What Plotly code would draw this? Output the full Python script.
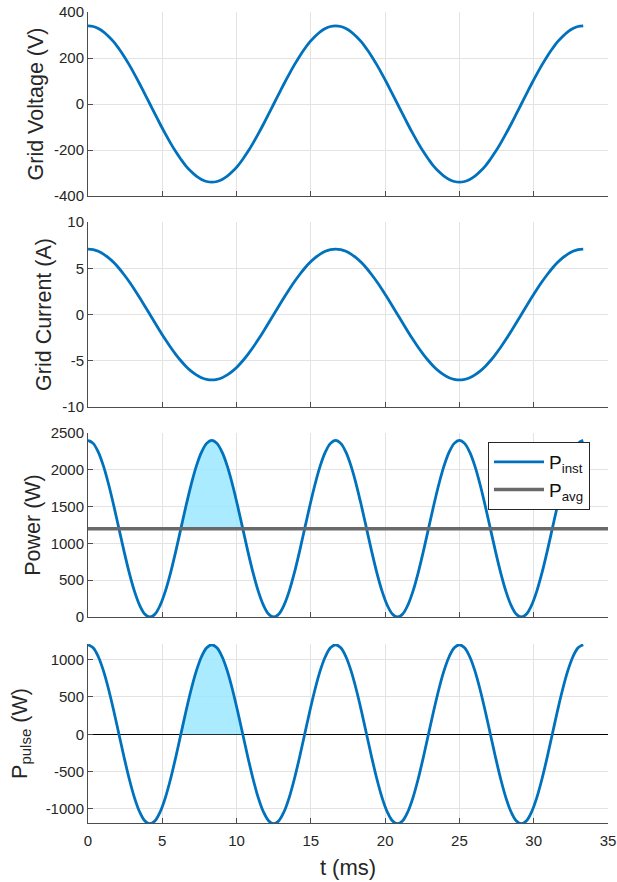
import plotly.graph_objects as go
from plotly.subplots import make_subplots

# ---- data ----
t_ms = [0.000, 0.347, 0.694, 1.042, 1.389, 1.736, 2.083, 2.431, 2.778, 3.125,
        3.472, 3.819, 4.167, 4.514, 4.861, 5.208, 5.556, 5.903, 6.250, 6.597,
        6.944, 7.292, 7.639, 7.986, 8.333, 8.681, 9.028, 9.375, 9.722, 10.069,
        10.417, 10.764, 11.111, 11.458, 11.806, 12.153, 12.500, 12.847, 13.194, 13.542,
        13.889, 14.236, 14.583, 14.931, 15.278, 15.625, 15.972, 16.319, 16.667, 17.014,
        17.361, 17.708, 18.056, 18.403, 18.750, 19.097, 19.444, 19.792, 20.139, 20.486,
        20.833, 21.181, 21.528, 21.875, 22.222, 22.569, 22.917, 23.264, 23.611, 23.958,
        24.306, 24.653, 25.000, 25.347, 25.694, 26.042, 26.389, 26.736, 27.083, 27.431,
        27.778, 28.125, 28.472, 28.819, 29.167, 29.514, 29.861, 30.208, 30.556, 30.903,
        31.250, 31.597, 31.944, 32.292, 32.639, 32.986, 33.333]

grid_voltage = [340, 337, 328, 314, 294, 270, 240, 207, 170, 130, 88, 44, 0,
                -44, -88, -130, -170, -207, -240, -270, -294, -314, -328, -337, -340,
                -337, -328, -314, -294, -270, -240, -207, -170, -130, -88, -44, 0,
                44, 88, 130, 170, 207, 240, 270, 294, 314, 328, 337, 340,
                337, 328, 314, 294, 270, 240, 207, 170, 130, 88, 44, 0,
                -44, -88, -130, -170, -207, -240, -270, -294, -314, -328, -337, -340,
                -337, -328, -314, -294, -270, -240, -207, -170, -130, -88, -44, 0,
                44, 88, 130, 170, 207, 240, 270, 294, 314, 328, 337, 340]

grid_current = [7.07, 7.01, 6.83, 6.53, 6.12, 5.61, 5.00, 4.30, 3.54, 2.71, 1.83, 0.92, 0,
                -0.92, -1.83, -2.71, -3.54, -4.30, -5.00, -5.61, -6.12, -6.53, -6.83, -7.01, -7.07,
                -7.01, -6.83, -6.53, -6.12, -5.61, -5.00, -4.30, -3.54, -2.71, -1.83, -0.92, 0,
                0.92, 1.83, 2.71, 3.54, 4.30, 5.00, 5.61, 6.12, 6.53, 6.83, 7.01, 7.07,
                7.01, 6.83, 6.53, 6.12, 5.61, 5.00, 4.30, 3.54, 2.71, 1.83, 0.92, 0,
                -0.92, -1.83, -2.71, -3.54, -4.30, -5.00, -5.61, -6.12, -6.53, -6.83, -7.01, -7.07,
                -7.01, -6.83, -6.53, -6.12, -5.61, -5.00, -4.30, -3.54, -2.71, -1.83, -0.92, 0,
                0.92, 1.83, 2.71, 3.54, 4.30, 5.00, 5.61, 6.12, 6.53, 6.83, 7.01, 7.07]

p_inst = [2400, 2359, 2239, 2049, 1800, 1511, 1200, 889, 600, 351, 161, 41, 0,
          41, 161, 351, 600, 889, 1200, 1511, 1800, 2049, 2239, 2359, 2400,
          2359, 2239, 2049, 1800, 1511, 1200, 889, 600, 351, 161, 41, 0,
          41, 161, 351, 600, 889, 1200, 1511, 1800, 2049, 2239, 2359, 2400,
          2359, 2239, 2049, 1800, 1511, 1200, 889, 600, 351, 161, 41, 0,
          41, 161, 351, 600, 889, 1200, 1511, 1800, 2049, 2239, 2359, 2400,
          2359, 2239, 2049, 1800, 1511, 1200, 889, 600, 351, 161, 41, 0,
          41, 161, 351, 600, 889, 1200, 1511, 1800, 2049, 2239, 2359, 2400]

p_pulse = [1200, 1159, 1039, 849, 600, 311, 0, -311, -600, -849, -1039, -1159, -1200,
           -1159, -1039, -849, -600, -311, 0, 311, 600, 849, 1039, 1159, 1200,
           1159, 1039, 849, 600, 311, 0, -311, -600, -849, -1039, -1159, -1200,
           -1159, -1039, -849, -600, -311, 0, 311, 600, 849, 1039, 1159, 1200,
           1159, 1039, 849, 600, 311, 0, -311, -600, -849, -1039, -1159, -1200,
           -1159, -1039, -849, -600, -311, 0, 311, 600, 849, 1039, 1159, 1200,
           1159, 1039, 849, 600, 311, 0, -311, -600, -849, -1039, -1159, -1200,
           -1159, -1039, -849, -600, -311, 0, 311, 600, 849, 1039, 1159, 1200]

t_avg = [0, 35]
p_avg = [1200, 1200]

shade_start, shade_end = 18, 30   # indices of the shaded hump (6.25 .. 10.42 ms)

x_ticks = [0, 5, 10, 15, 20, 25, 30, 35]
y_ticks = [[-400, -200, 0, 200, 400], [-10, -5, 0, 5, 10],
           [0, 500, 1000, 1500, 2000, 2500], [-1000, -500, 0, 500, 1000]]
y_titles = ["Grid Voltage (V)", "Grid Current (A)", "Power (W)", "P<sub>pulse</sub> (W)"]
y_standoffs = [4, 4, 4, 12]

# ---- styling ----
BLUE = "#0072BD"
GRAY = "#696969"
FILL = "rgba(150,230,255,0.8)"
FONT = "Liberation Sans, Arial, sans-serif"
TXT = "#262626"
AX = "#4d4d4d"
GRID = "#e3e3e3"
LW = 2.8

fig = make_subplots(rows=4, cols=1, shared_xaxes=False, vertical_spacing=0.03)

fig.add_trace(go.Scatter(x=t_ms, y=grid_voltage, mode="lines", line=dict(color=BLUE, width=LW, shape="spline"),
                         showlegend=False), row=1, col=1)
fig.add_trace(go.Scatter(x=t_ms, y=grid_current, mode="lines", line=dict(color=BLUE, width=LW, shape="spline"),
                         showlegend=False), row=2, col=1)

# panel 3: shaded area between P_inst and P_avg
seg_t = t_ms[shade_start:shade_end + 1]
fig.add_trace(go.Scatter(x=seg_t, y=[p_avg[0]] * len(seg_t), mode="lines", line=dict(width=0),
                         showlegend=False, hoverinfo="skip"), row=3, col=1)
fig.add_trace(go.Scatter(x=seg_t, y=p_inst[shade_start:shade_end + 1], mode="lines",
                         line=dict(width=0, shape="spline"), fill="tonexty", fillcolor=FILL,
                         showlegend=False, hoverinfo="skip"), row=3, col=1)
fig.add_trace(go.Scatter(x=t_ms, y=p_inst, mode="lines", name="P<sub>inst</sub>",
                         line=dict(color=BLUE, width=LW, shape="spline")), row=3, col=1)
fig.add_trace(go.Scatter(x=t_avg, y=p_avg, mode="lines", name="P<sub>avg</sub>",
                         line=dict(color=GRAY, width=3.5)), row=3, col=1)

# panel 4
fig.add_trace(go.Scatter(x=seg_t, y=p_pulse[shade_start:shade_end + 1], mode="lines",
                         line=dict(width=0, shape="spline"), fill="tozeroy", fillcolor=FILL,
                         showlegend=False, hoverinfo="skip"), row=4, col=1)
fig.add_trace(go.Scatter(x=t_ms, y=p_pulse, mode="lines", line=dict(color=BLUE, width=LW, shape="spline"),
                         showlegend=False), row=4, col=1)

# page pixel geometry (body margin removed via post_script)
W, H = 617, 882
top_m, bot_m = 12, 882 - 823
left_m, right_m = 88, 617 - 608
ph = H - top_m - bot_m
def dom(bottom_px, top_px):
    return [(823 - bottom_px) / ph, (823 - top_px) / ph]

domains = [dom(196, 12), dom(407, 222), dom(617, 433), dom(823, 644)]
yranges = [[-400, 400], [-10, 10], [0, 2500], [-1190, 1210]]

for i in range(4):
    r = i + 1
    fig.update_yaxes(row=r, col=1, domain=domains[i], range=yranges[i], automargin=False,
                     tickvals=y_ticks[i], ticktext=[str(v) for v in y_ticks[i]],
                     ticklabeloverflow="allow",
                     showline=True, linecolor=AX, linewidth=1, mirror=False,
                     ticks="inside", ticklen=5, tickcolor=AX,
                     showgrid=True, gridcolor=GRID, gridwidth=1,
                     zeroline=(r == 4), zerolinecolor="black", zerolinewidth=1,
                     tickfont=dict(family=FONT, size=15, color=TXT),
                     title=dict(text=y_titles[i], font=dict(family=FONT, size=21.5, color=TXT),
                                standoff=y_standoffs[i]))
    fig.update_xaxes(row=r, col=1, range=[0, 35], tickvals=x_ticks, ticktext=[str(v) for v in x_ticks],
                     showticklabels=(r == 4), automargin=False, ticklabeloverflow="allow",
                     showline=True, linecolor=AX, linewidth=1, mirror=False,
                     ticks="inside", ticklen=5, tickcolor=AX,
                     showgrid=True, gridcolor=GRID, gridwidth=1, zeroline=False,
                     tickfont=dict(family=FONT, size=15, color=TXT))

fig.update_xaxes(row=4, col=1, ticklabelstandoff=4,
                 title=dict(text="t (ms)", font=dict(family=FONT, size=22, color=TXT), standoff=11))

fig.update_layout(
    width=W, height=H,
    margin=dict(l=left_m, r=right_m, t=top_m, b=bot_m),
    paper_bgcolor="white", plot_bgcolor="white",
    font=dict(family=FONT, color=TXT),
    hovermode=False,
    legend=dict(x=(488 - 88) / 520, y=(823 - 442) / ph, xanchor="left", yanchor="top",
                bgcolor="white", bordercolor="#262626", borderwidth=1, traceorder="normal",
                font=dict(family=FONT, size=19, color="#111111"),
                tracegroupgap=0, itemwidth=50),
)

fig.write_html("out.html", config={"displayModeBar": False},
               post_script="document.body.style.margin='0px';document.body.style.overflow='hidden';")
